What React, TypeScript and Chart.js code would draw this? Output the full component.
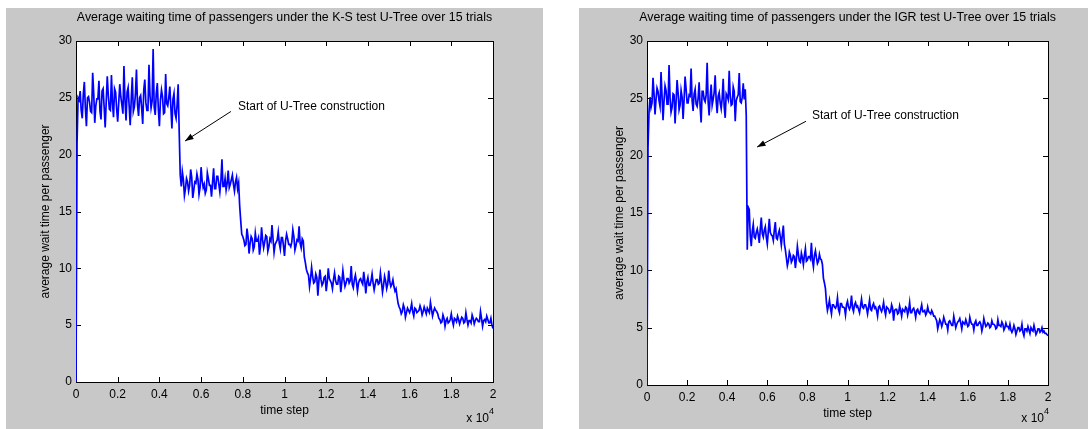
import React, { useEffect, useRef } from 'react';
import { Chart, registerables } from 'chart.js';

Chart.register(...registerables);

// ---- data ----
const SAMPLE_STEP = 100; // time steps between samples
// samples at 0, 100, ..., 20000 and half-way samples at 50, 150, ..., 19950
const timeSteps: number[] = Array.from({ length: 201 }, (_, i) => i * SAMPLE_STEP);
const midTimeSteps: number[] = Array.from({ length: 200 }, (_, i) => i * SAMPLE_STEP + SAMPLE_STEP / 2);

const xTickValues = [0, 2000, 4000, 6000, 8000, 10000, 12000, 14000, 16000, 18000, 20000];
const xTickLabels = ['0', '0.2', '0.4', '0.6', '0.8', '1', '1.2', '1.4', '1.6', '1.8', '2'];
const yTickValues = [0, 5, 10, 15, 20, 25, 30];

const ksTitle = 'Average waiting time of passengers under the K-S test U-Tree over 15 trials';
const igrTitle = 'Average waiting time of passengers under the IGR test U-Tree over 15 trials';
const yAxisTitle = 'average wait time per passenger';
const xAxisTitle = 'time step';
const annotationText = 'Start of U-Tree construction';

// K-S test U-Tree, values at t = 0, 100, ..., 20000
const ksWaitTime = [
  0,
  25.0, 25.6, 23.2, 26.4, 22.5, 25.1, 23.8, 27.2, 22.8, 24.9,
  26.5, 23.1, 25.8, 22.4, 26.9, 24.0, 27.0, 23.3, 25.5, 22.9,
  26.2, 24.4, 27.8, 23.0, 25.9, 22.6, 26.8, 24.2, 27.5, 23.4,
  25.2, 22.7, 26.6, 23.9, 27.9, 24.1, 29.3, 23.5, 26.3, 22.5,
  25.7, 23.6, 27.1, 24.3, 26.0, 22.3, 25.4, 23.2, 26.2,
  18.2,
  18.5, 16.4, 17.9, 16.8, 18.7, 16.2, 17.6, 18.3, 16.5, 18.9,
  17.1, 16.6, 18.4, 17.3, 16.3, 18.8, 17.0, 18.1, 16.7, 19.6,
  17.2, 16.9, 18.6, 17.4, 18.2, 16.8, 18.0, 17.5,
  14.2, 12.8,
  12.0, 13.5, 11.3, 12.8, 11.6, 13.1, 12.4, 11.2, 13.6, 11.8,
  12.9, 11.5, 12.6, 13.8, 11.4, 12.3, 13.2, 11.7, 12.7, 11.1,
  13.0, 12.1, 11.9, 13.4, 11.6, 12.5, 13.7, 11.8, 12.4,
  10.5, 9.6,
  8.4, 10.1, 8.7, 9.5, 7.6, 9.9, 8.5, 9.2, 8.0, 10.0,
  8.9, 8.2, 9.6, 8.6, 9.3, 7.9, 9.8, 8.4, 9.1, 8.7,
  10.2, 8.3, 9.4, 8.0, 9.0, 8.8, 9.7, 7.8, 9.2, 8.5,
  9.5, 8.1, 9.0, 8.6, 9.6, 7.9, 9.3, 8.2, 9.8, 8.4,
  9.0, 8.0,
  7.5, 6.6,
  6.0, 6.8, 5.7, 6.5, 6.1, 6.9, 5.8, 6.4, 6.2, 6.7,
  5.9, 6.6, 6.0, 6.3, 7.0, 5.8, 6.5, 6.2,
  5.6,
  5.2, 5.9, 4.9, 5.6, 5.3, 6.0, 5.0, 5.5, 5.8, 5.1,
  5.7, 5.2, 6.1, 5.0, 5.4, 5.9, 5.1, 5.6, 5.3, 6.2,
  4.9, 5.5, 5.8, 5.2, 5.6, 4.7,
];

// K-S test U-Tree, values at t = 50, 150, ..., 19950
const ksWaitTimeMid = [
  21.0,
  24.8, 23.9, 25.3, 24.1, 25.0, 24.6, 23.7, 25.4, 24.3, 24.9,
  23.8, 25.6, 24.2, 24.7, 25.2, 23.9, 24.5, 25.8, 24.0, 24.6,
  25.1, 23.6, 24.8, 25.5, 24.3, 24.9, 23.8, 25.3, 24.4, 25.0,
  24.1, 25.7, 24.6, 23.9, 25.2, 24.7, 24.2, 25.4, 24.0, 24.8,
  25.1, 23.7, 24.5, 25.0, 24.2, 24.9, 23.6, 24.4,
  22.0,
  17.2, 17.8, 17.0, 17.6, 17.3, 18.0, 16.9, 17.5, 17.8, 17.1,
  17.7, 17.4, 16.9, 17.9, 17.3, 17.6, 17.0, 18.1, 17.4, 17.7,
  17.2, 17.9, 17.5, 17.1, 17.8, 17.4, 17.6, 17.0,
  15.5, 13.0,
  12.5, 12.1, 12.8, 12.2, 12.6, 11.9, 12.4, 12.7, 12.0, 12.5,
  12.3, 12.8, 11.9, 12.4, 12.6, 12.1, 12.5, 12.2, 12.7, 12.0,
  12.4, 12.6, 12.1, 12.3, 12.8, 12.0, 12.4, 12.2, 12.6,
  11.0, 9.9,
  9.4, 9.1, 9.3, 8.8, 9.2, 8.9, 9.0, 8.7, 9.3, 8.8,
  9.1, 8.7, 9.0, 8.9, 8.6, 9.2, 8.8, 9.0, 8.7, 9.1,
  8.9, 8.6, 9.0, 8.8, 8.7, 9.1, 8.6, 8.9, 8.8, 8.5,
  8.9, 8.7, 8.6, 9.0, 8.7, 8.8, 8.5, 8.9, 8.6, 8.8,
  8.6, 8.4,
  8.2, 6.9,
  6.4, 6.2, 6.5, 6.1, 6.3, 6.4, 6.2, 6.5, 6.1, 6.3,
  6.4, 6.2, 6.3, 6.5, 6.1, 6.4, 6.2, 6.3,
  6.0,
  5.5, 5.3, 5.6, 5.4, 5.2, 5.5, 5.4, 5.6, 5.3, 5.5,
  5.4, 5.6, 5.3, 5.5, 5.4, 5.2, 5.6, 5.4, 5.5, 5.3,
  5.6, 5.4, 5.3, 5.5, 5.2, 5.0,
];

// IGR test U-Tree, values at t = 0, 100, ..., 20000
const igrWaitTime = [
  0, 23.8,
  24.2, 26.8, 23.6, 25.9, 24.8, 27.3, 23.1, 26.1, 24.5, 27.9,
  23.8, 25.4, 22.8, 26.6, 24.0, 25.7, 23.2, 26.9, 24.6, 25.3,
  27.6, 23.9, 25.8, 24.3, 26.4, 22.9, 25.6, 24.7, 28.1, 23.5,
  26.2, 24.9, 27.0, 23.7, 25.5, 24.1, 26.7, 23.3, 25.2, 27.4,
  24.4, 26.0, 23.0, 25.1, 27.2, 24.6, 26.3, 25.8,
  11.8,
  15.3, 12.1, 14.0, 12.8, 13.6, 12.4, 14.6, 12.9, 13.8, 12.3,
  14.5, 13.1, 12.6, 14.2, 12.7, 13.5, 12.2, 13.9,
  11.8,
  10.4, 11.6, 10.7, 11.3, 10.2, 12.1, 10.8, 11.5, 10.5, 11.9,
  10.9, 11.2, 12.4, 10.3, 11.7, 10.6, 11.4, 10.9,
  9.3, 8.4,
  6.5, 7.4, 6.2, 7.0, 6.7, 7.6, 6.3, 7.1, 6.8, 6.1,
  7.3, 6.6, 7.8, 6.4, 7.2, 6.9, 6.3, 7.5, 6.7, 7.0,
  6.2, 7.4, 6.5, 7.1, 6.8, 6.0, 6.9, 6.4, 7.2, 6.1,
  6.7, 6.3, 7.0, 5.6, 6.6, 6.2, 6.9, 6.0, 6.5, 6.8,
  6.1, 7.2, 6.3, 6.7, 5.9, 6.6, 6.2, 7.0, 6.4, 6.1,
  6.8, 6.3, 6.5, 6.0,
  5.8,
  4.9, 5.7, 5.1, 5.9, 5.3, 4.8, 5.6, 5.2, 6.0, 5.0,
  5.5, 5.8, 4.9, 5.4, 5.7, 5.1, 5.9, 5.3, 4.8, 5.6,
  5.2, 5.5, 4.7, 5.8, 5.1, 5.4, 5.0, 5.6, 5.3, 4.9,
  5.7, 5.2, 5.5, 4.8, 5.4, 5.1, 5.3,
  4.6, 5.2, 4.4, 5.0, 4.7, 5.3, 4.3, 4.9, 5.1, 4.5,
  4.8, 5.2, 4.4, 4.9, 4.6, 5.0, 4.7, 4.5, 4.3,
];

// IGR test U-Tree, values at t = 50, 150, ..., 19950
const igrWaitTimeMid = [
  20.7,
  25.1, 24.6, 25.4, 24.9, 25.6, 24.3, 25.2, 24.8, 25.7, 24.5,
  25.0, 24.2, 25.3, 24.7, 25.5, 24.4, 25.1, 24.9, 25.8, 24.6,
  25.2, 24.8, 25.4, 24.5, 25.0, 24.3, 25.6, 24.9, 25.3, 24.7,
  25.1, 24.4, 25.5, 24.8, 25.2, 24.6, 25.0, 24.3, 25.4, 24.9,
  25.2, 24.5, 25.6, 24.8, 25.3, 24.7, 25.1, 24.9,
  23.5,
  15.5,
  13.0, 13.4, 12.9, 13.3, 13.1, 13.6, 13.2, 13.5, 12.9, 13.4,
  13.3, 13.0, 13.5, 12.8, 13.2, 12.9, 13.1,
  12.3,
  11.1, 10.8, 11.3, 10.9, 11.2, 11.0, 11.4, 10.7, 11.1, 11.3,
  10.8, 11.2, 11.0, 10.9, 11.3, 11.1, 10.8, 11.0,
  10.5, 8.9, 7.2,
  6.9, 6.7, 7.0, 6.8, 6.9, 6.6, 7.1, 6.8, 6.7, 7.0,
  6.8, 6.9, 6.7, 7.0, 6.8, 6.6, 6.9, 6.8, 7.0, 6.7,
  6.8, 6.6, 6.9, 6.7, 6.5, 6.8, 6.6, 6.7, 6.5, 6.8,
  6.6, 6.4, 6.7, 6.5, 6.6, 6.3, 6.5, 6.6, 6.4, 6.7,
  6.5, 6.3, 6.6, 6.4, 6.5, 6.3, 6.6, 6.4, 6.5, 6.3,
  6.4, 6.2, 6.3,
  6.0,
  5.6, 5.3, 5.5, 5.4, 5.6, 5.3, 5.5, 5.4, 5.2, 5.5,
  5.3, 5.6, 5.4, 5.5, 5.3, 5.4, 5.2, 5.5, 5.3, 5.4,
  5.2, 5.4, 5.3, 5.1, 5.4, 5.2, 5.3, 5.1, 5.3, 5.2,
  5.0, 5.2, 5.1, 5.3, 5.0, 5.1, 4.9, 4.8,
  4.8, 4.9, 4.7, 5.0, 4.8, 4.6, 4.9, 4.7, 4.8, 5.0,
  4.7, 4.8, 4.6, 4.9, 4.7, 4.6, 4.5, 4.4,
];

// annotation anchor points in data coordinates [time step, wait time]
const ksAnnText = [7770, 24.2];
const ksAnnTail = [7430, 23.8];
const ksAnnHead = [5230, 21.2];
const igrAnnText = [8230, 23.45];
const igrAnnTail = [7930, 23.0];
const igrAnnHead = [5490, 20.75];

const FONT = '"Liberation Sans", Arial, Helvetica, sans-serif';
const FIGURE_GRAY = '#c8c8c8';

function buildPoints(main: number[], mid: number[]) {
  const pts: { x: number; y: number }[] = [];
  main.forEach((v, i) => {
    pts.push({ x: timeSteps[i], y: v });
    if (i < mid.length) pts.push({ x: midTimeSteps[i], y: mid[i] });
  });
  return pts;
}

const matlabFrame = {
  id: 'matlabFrame',
  beforeDraw(chart: any) {
    const { ctx, width, height, chartArea: ca } = chart;
    ctx.save();
    ctx.fillStyle = FIGURE_GRAY;
    ctx.fillRect(0, 0, width, height);
    ctx.fillStyle = '#ffffff';
    ctx.fillRect(ca.left, ca.top, ca.right - ca.left, ca.bottom - ca.top);
    ctx.strokeStyle = '#000000';
    ctx.lineWidth = 1;
    ctx.strokeRect(ca.left + 0.5, ca.top + 0.5, ca.right - ca.left, ca.bottom - ca.top);
    const xs = chart.scales.x;
    const ys = chart.scales.y;
    const tl = 5;
    ctx.beginPath();
    xTickValues.forEach((v) => {
      const px = Math.round(xs.getPixelForValue(v)) + 0.5;
      ctx.moveTo(px, ca.bottom);
      ctx.lineTo(px, ca.bottom - tl);
      ctx.moveTo(px, ca.top);
      ctx.lineTo(px, ca.top + tl);
    });
    yTickValues.forEach((v) => {
      const py = Math.round(ys.getPixelForValue(v)) + 0.5;
      ctx.moveTo(ca.left, py);
      ctx.lineTo(ca.left + tl, py);
      ctx.moveTo(ca.right, py);
      ctx.lineTo(ca.right - tl, py);
    });
    ctx.stroke();
    ctx.restore();
  },
  afterDraw(chart: any, _args: any, opts: any) {
    const { ctx, chartArea: ca } = chart;
    const xs = chart.scales.x;
    const ys = chart.scales.y;
    const cx = (ca.left + ca.right) / 2;
    ctx.save();
    ctx.fillStyle = '#000000';
    ctx.font = `12.4px ${FONT}`;
    ctx.textAlign = 'center';
    ctx.textBaseline = 'middle';
    ctx.fillText(opts.title, cx, opts.titleY);
    ctx.font = `12px ${FONT}`;
    ctx.fillText(xAxisTitle, cx, opts.xTitleY);
    ctx.save();
    ctx.translate(opts.yTitleX, (ca.top + ca.bottom) / 2);
    ctx.rotate(-Math.PI / 2);
    ctx.fillText(yAxisTitle, 0, 0);
    ctx.restore();
    // exponent label  x 10^4
    ctx.textAlign = 'right';
    ctx.font = `9px ${FONT}`;
    const expW = ctx.measureText('4').width;
    ctx.fillText('4', ca.right + 1, opts.expY - 7);
    ctx.font = `12px ${FONT}`;
    ctx.fillText('x 10', ca.right + 1 - expW, opts.expY);
    // annotation
    const a = opts.ann;
    const tx = xs.getPixelForValue(a.text[0]);
    const ty = ys.getPixelForValue(a.text[1]);
    ctx.textAlign = 'left';
    ctx.fillText(annotationText, tx, ty);
    const x1 = xs.getPixelForValue(a.tail[0]);
    const y1 = ys.getPixelForValue(a.tail[1]);
    const x2 = xs.getPixelForValue(a.head[0]);
    const y2 = ys.getPixelForValue(a.head[1]);
    ctx.strokeStyle = '#000000';
    ctx.lineWidth = 1;
    ctx.beginPath();
    ctx.moveTo(x1, y1);
    ctx.lineTo(x2, y2);
    ctx.stroke();
    const ang = Math.atan2(y2 - y1, x2 - x1);
    const hl = 9;
    const hw = 0.35;
    ctx.beginPath();
    ctx.moveTo(x2, y2);
    ctx.lineTo(x2 - hl * Math.cos(ang - hw), y2 - hl * Math.sin(ang - hw));
    ctx.lineTo(x2 - hl * Math.cos(ang + hw), y2 - hl * Math.sin(ang + hw));
    ctx.closePath();
    ctx.fill();
    ctx.restore();
  },
};

type PlotProps = {
  values: number[];
  midValues: number[];
  title: string;
  ann: { text: number[]; tail: number[]; head: number[] };
  left: number;
  top: number;
  width: number;
  height: number;
  yWidth: number;
  xHeight: number;
  padRight: number;
  titleY: number;
  xTitleY: number;
  yTitleX: number;
  expY: number;
};

function MatlabPlot(p: PlotProps) {
  const ref = useRef<HTMLCanvasElement>(null);
  useEffect(() => {
    const points = buildPoints(p.values, p.midValues);
    const chart = new Chart(ref.current as HTMLCanvasElement, {
      type: 'line',
      data: {
        datasets: [
          {
            data: points,
            borderColor: '#0000ff',
            borderWidth: 1.7,
            borderJoinStyle: 'miter',
            pointRadius: 0,
            tension: 0,
            fill: false,
          },
        ],
      },
      options: {
        responsive: false,
        animation: false,
        devicePixelRatio: 1,
        layout: { padding: { top: 33, right: p.padRight, left: 0, bottom: 0 } },
        plugins: {
          legend: { display: false },
          tooltip: { enabled: false },
          matlabFrame: {
            title: p.title,
            ann: p.ann,
            titleY: p.titleY,
            xTitleY: p.xTitleY,
            yTitleX: p.yTitleX,
            expY: p.expY,
          },
        } as any,
        scales: {
          x: {
            type: 'linear',
            min: 0,
            max: 20000,
            afterBuildTicks: (s: any) => {
              s.ticks = xTickValues.map((v) => ({ value: v }));
            },
            afterFit: (s: any) => {
              s.height = p.xHeight;
            },
            ticks: {
              autoSkip: false,
              maxRotation: 0,
              padding: 5,
              color: '#000000',
              font: { family: FONT, size: 12 },
              callback: (v: any) => xTickLabels[xTickValues.indexOf(Number(v))],
            },
            grid: { display: false, drawTicks: false },
            border: { display: false },
          },
          y: {
            type: 'linear',
            min: 0,
            max: 30,
            afterBuildTicks: (s: any) => {
              s.ticks = yTickValues.map((v) => ({ value: v }));
            },
            afterFit: (s: any) => {
              s.width = p.yWidth;
            },
            ticks: {
              padding: 4,
              color: '#000000',
              font: { family: FONT, size: 12 },
              callback: (v: any) => String(v),
            },
            grid: { display: false, drawTicks: false },
            border: { display: false },
          },
        },
      },
      plugins: [matlabFrame as any],
    });
    return () => chart.destroy();
  }, []);
  return (
    <canvas
      ref={ref}
      width={p.width}
      height={p.height}
      style={{ position: 'absolute', left: p.left, top: p.top, width: p.width, height: p.height }}
    />
  );
}

export default function App() {
  return (
    <div
      style={{
        position: 'fixed',
        left: 0,
        top: 0,
        width: 1088,
        height: 429,
        background: '#ffffff',
        overflow: 'hidden',
      }}
    >
      <MatlabPlot
        values={ksWaitTime}
        midValues={ksWaitTimeMid}
        title={ksTitle}
        ann={{ text: ksAnnText, tail: ksAnnTail, head: ksAnnHead }}
        left={6}
        top={8}
        width={537}
        height={421}
        yWidth={70}
        xHeight={47}
        padRight={50}
        titleY={10}
        xTitleY={403}
        yTitleX={40}
        expY={411}
      />
      <MatlabPlot
        values={igrWaitTime}
        midValues={igrWaitTimeMid}
        title={igrTitle}
        ann={{ text: igrAnnText, tail: igrAnnTail, head: igrAnnHead }}
        left={579}
        top={8}
        width={509}
        height={421}
        yWidth={68}
        xHeight={44}
        padRight={40}
        titleY={10}
        xTitleY={406}
        yTitleX={41}
        expY={411}
      />
    </div>
  );
}
